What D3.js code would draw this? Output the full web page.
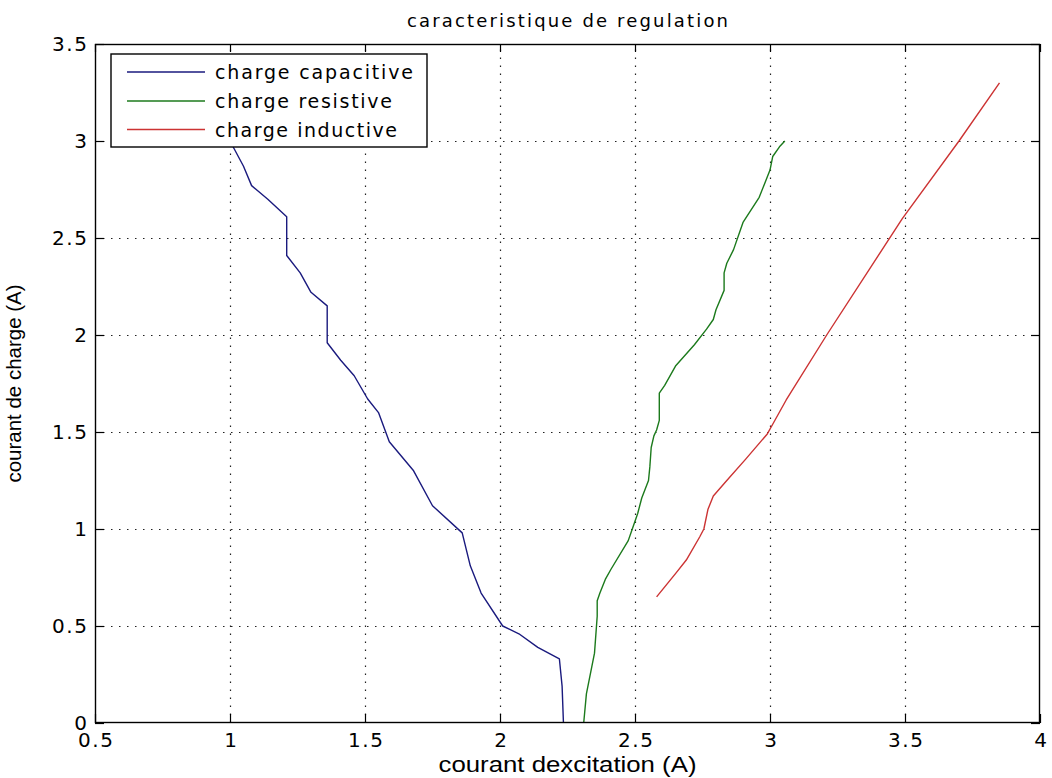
<!DOCTYPE html>
<html><head><meta charset="utf-8">
<script src="https://cdn.jsdelivr.net/npm/d3@7"></script>
<style>body{margin:0;background:#fff} svg{display:block;background:#fff}</style>
</head><body>
<svg id="c" width="1052" height="778"></svg>
<script>
const titleText = "caracteristique de regulation";
const xLabelText = "courant dexcitation (A)";
const yLabelText = "courant de charge (A)";
const seriesNames = ["charge capacitive", "charge resistive", "charge inductive"];
const seriesColors = ["#1a1a7e", "#1c7a1c", "#cc3333"];
const xTicks = [0.5, 1, 1.5, 2, 2.5, 3, 3.5, 4];
const yTicks = [0, 0.5, 1, 1.5, 2, 2.5, 3, 3.5];

const capacitiveX = [1.00,1.05,1.08,1.14,1.21,1.21,1.26,1.30,1.36,1.36,1.41,1.46,1.51,1.55,1.59,1.68,1.75,1.86,1.89,1.93,2.01,2.07,2.14,2.22,2.23,2.235];
const capacitiveY = [3.00,2.87,2.77,2.70,2.61,2.41,2.32,2.22,2.15,1.96,1.87,1.79,1.67,1.60,1.45,1.30,1.12,0.98,0.81,0.67,0.50,0.46,0.39,0.33,0.19,0.00];

const resistiveX = [2.31,2.32,2.35,2.36,2.36,2.37,2.39,2.41,2.475,2.49,2.51,2.525,2.55,2.555,2.56,2.57,2.58,2.59,2.59,2.61,2.65,2.72,2.765,2.79,2.80,2.83,2.83,2.84,2.865,2.90,2.96,2.98,3.00,3.01,3.035,3.055];
const resistiveY = [0.00,0.15,0.36,0.55,0.63,0.67,0.74,0.79,0.94,1.00,1.08,1.16,1.25,1.32,1.42,1.48,1.51,1.56,1.70,1.74,1.84,1.95,2.03,2.08,2.13,2.23,2.32,2.37,2.44,2.58,2.71,2.78,2.85,2.92,2.97,3.00];

const inductiveX = [2.58,2.65,2.69,2.74,2.755,2.77,2.79,2.84,2.91,2.99,3.01,3.06,3.21,3.49,3.70,3.85];
const inductiveY = [0.65,0.77,0.84,0.96,1.00,1.10,1.17,1.25,1.36,1.49,1.54,1.665,2.00,2.60,3.00,3.30];

const series = [
  d3.zip(capacitiveX, capacitiveY),
  d3.zip(resistiveX, resistiveY),
  d3.zip(inductiveX, inductiveY)
];

const L = 95, R = 1040, T = 44, B = 723;
const svg = d3.select("#c");
const x = d3.scaleLinear().domain([0.5, 4]).range([L, R]);
const y = d3.scaleLinear().domain([0, 3.5]).range([B, T]);
const tickFont = "'DejaVu Sans', sans-serif";
const labelFont = "'Liberation Sans Narrow', 'Liberation Sans', Arial, sans-serif";

// grid
const grid = svg.append("g").attr("stroke", "#222").attr("stroke-width", 1.2).attr("stroke-dasharray", "1.5 6.5");
grid.selectAll("line.gx").data(xTicks.filter(d => d > 0.5 && d < 4)).join("line")
  .attr("class", "gx")
  .attr("x1", d => Math.round(x(d)) + 0.5).attr("x2", d => Math.round(x(d)) + 0.5)
  .attr("y1", B).attr("y2", T);
grid.selectAll("line.gy").data(yTicks.filter(d => d > 0 && d < 3.5)).join("line")
  .attr("class", "gy")
  .attr("y1", d => Math.round(y(d)) + 0.5).attr("y2", d => Math.round(y(d)) + 0.5)
  .attr("x1", L).attr("x2", R);

// axes
function styleAxis(g) {
  g.select(".domain").remove();
  g.selectAll(".tick line").attr("stroke", "#000").attr("stroke-width", 1.2);
  g.selectAll("text").attr("fill", "#000").style("font-family", tickFont)
    .style("font-size", "20px").style("letter-spacing", "1.6px");
}
svg.append("g").attr("transform", `translate(0,${B})`)
  .call(d3.axisBottom(x).tickValues(xTicks).tickFormat(d => String(d)).tickSizeInner(-9).tickSizeOuter(0).tickPadding(10))
  .call(styleAxis)
  .selectAll("text").attr("dx", "0.8");
svg.append("g").attr("transform", `translate(0,${T})`)
  .call(d3.axisTop(x).tickValues(xTicks).tickFormat("").tickSizeInner(-8).tickSizeOuter(0))
  .call(styleAxis);
svg.append("g").attr("transform", `translate(${L},0)`)
  .call(d3.axisLeft(y).tickValues(yTicks).tickFormat(d => String(d)).tickSizeInner(-9).tickSizeOuter(0).tickPadding(6.4))
  .call(styleAxis);
svg.append("g").attr("transform", `translate(${R},0)`)
  .call(d3.axisRight(y).tickValues(yTicks).tickFormat("").tickSizeInner(-9).tickSizeOuter(0))
  .call(styleAxis);

// lines
const line = d3.line().x(d => x(d[0])).y(d => y(d[1]));
svg.append("g").selectAll("path").data(series).join("path")
  .attr("d", line).attr("fill", "none")
  .attr("stroke", (d, i) => seriesColors[i]).attr("stroke-width", 1.4)
  .attr("stroke-linejoin", "round");

// box
svg.append("rect").attr("x", L + 0.5).attr("y", T + 0.5).attr("width", R - L - 1).attr("height", B - T - 1)
  .attr("fill", "none").attr("stroke", "#000").attr("stroke-width", 1.4);

// legend
const lg = svg.append("g");
lg.append("rect").attr("x", 111).attr("y", 54).attr("width", 316).attr("height", 93)
  .attr("fill", "#fff").attr("stroke", "#000").attr("stroke-width", 1.4);
const rowY = [72, 101, 129.5];
const textLens = [198, 177, 182];
seriesNames.forEach((n, i) => {
  lg.append("line").attr("x1", 127).attr("x2", 205).attr("y1", rowY[i]).attr("y2", rowY[i])
    .attr("stroke", seriesColors[i]).attr("stroke-width", 1.4);
  lg.append("text").attr("x", 215).attr("y", rowY[i] + 7).text(n)
    .attr("textLength", textLens[i]).attr("lengthAdjust", "spacing")
    .style("font-family", tickFont).style("font-size", "19px").attr("fill", "#000");
});

// title and labels
svg.append("text").attr("x", (L + R) / 2).attr("y", 27).attr("text-anchor", "middle")
  .text(titleText).attr("textLength", 321).attr("lengthAdjust", "spacing")
  .style("font-family", tickFont).style("font-size", "18px").attr("fill", "#000");
svg.append("text").attr("x", (L + R) / 2).attr("y", 772).attr("text-anchor", "middle")
  .text(xLabelText).attr("textLength", 258).attr("lengthAdjust", "spacingAndGlyphs")
  .style("font-family", labelFont).style("font-size", "22px").attr("fill", "#000");
svg.append("text").attr("transform", `translate(21,${(T + B) / 2}) rotate(-90)`).attr("text-anchor", "middle")
  .text(yLabelText).attr("textLength", 198).attr("lengthAdjust", "spacingAndGlyphs")
  .style("font-family", labelFont).style("font-size", "21px").attr("fill", "#000");
</script>
</body></html>
